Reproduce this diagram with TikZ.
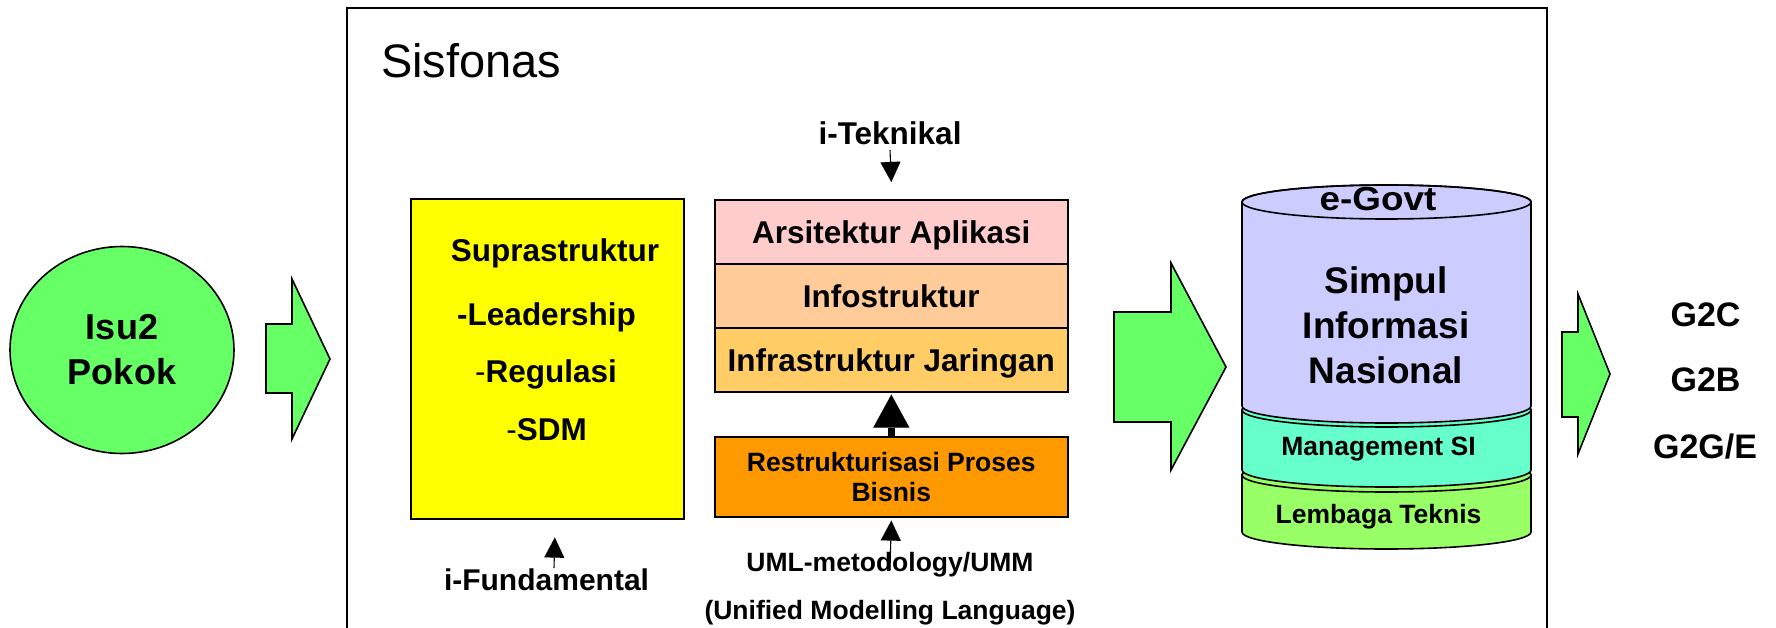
\documentclass[tikz,border=0pt]{standalone}
\usepackage{fontspec}
\setmainfont{Liberation Sans}
\usetikzlibrary{arrows.meta,shapes.geometric}
\newcommand\fsz[2]{\fontsize{#1pt}{#2pt}\selectfont}
\definecolor{bgreen}{HTML}{66FF66}
\definecolor{lyellow}{HTML}{FFFF00}
\definecolor{lpink}{HTML}{FFCCCC}
\definecolor{lpeach}{HTML}{FFCC99}
\definecolor{lgold}{HTML}{FFCC66}
\definecolor{lorange}{HTML}{FF9900}
\definecolor{lpurple}{HTML}{CCCCFF}
\definecolor{lteal}{HTML}{66FFCC}
\definecolor{llime}{HTML}{99FF66}
\newcommand\cyllayer[3]{%
  \filldraw[fill=#1, line width=1.6pt] (1242,#2) -- (1242,#3)
    arc[start angle=180, end angle=0, x radius=144.5, y radius=17] -- (1531,#2)
    arc[start angle=0, end angle=-180, x radius=144.5, y radius=17] -- cycle;
  \draw[line width=1.6pt] (1386.5,#2) ellipse[x radius=144.5, y radius=17];}
\begin{document}
\begin{tikzpicture}[x=1pt,y=-1pt,
  txt/.style={inner sep=0pt, text height=22.6pt, text depth=0pt, font=\bfseries\fsz{31.5}{38}},
  sm/.style={inner sep=0pt, text height=19pt, text depth=0pt, font=\bfseries\fsz{26.5}{30}},
  big/.style={inner sep=0pt, text height=24.3pt, text depth=0pt, font=\bfseries\fsz{34}{40}},
  layer/.style={draw, line width=1.6pt, minimum width=353pt, inner sep=0pt, anchor=north west,
    text height=22.6pt, text depth=0pt, font=\bfseries\fsz{31.5}{38}},
  blockarrow/.style={draw, line width=1.6pt, fill=bgreen, line join=miter},
  thinarrow/.style={line width=1.1pt, -{Triangle[width=20pt,length=20pt,line width=0.01pt]}}
]
\useasboundingbox (0,0) rectangle (1776,628);
\fill[white] (0,0) rectangle (1776,628);

% frame
\node[draw, line width=1.6pt, minimum width=1200pt, minimum height=700pt, inner sep=0pt, anchor=north west] (frame) at (346,7) {};
\node[inner sep=0pt, text height=33.7pt, text depth=0pt, font=\fsz{47}{56}, anchor=west] (sis) at (381,61) {Sisfonas};

% left ellipse
\node[ellipse, draw, fill=bgreen, line width=1.6pt, minimum width=224pt, minimum height=207pt,
  inner sep=0pt, align=center, font=\bfseries\fsz{36}{45}] (isu) at (122,350) {Isu2\\Pokok};

% block arrows
\draw[blockarrow] (266,324) -- (292,324) -- (292,279) -- (330,359) -- (292,439) -- (292,393) -- (266,393) -- cycle;
\draw[blockarrow] (1114,312) -- (1171,312) -- (1171,263) -- (1226,367) -- (1171,470) -- (1171,422) -- (1114,422) -- cycle;
\draw[blockarrow] (1562,332) -- (1578,332) -- (1578,294) -- (1610,374) -- (1578,454) -- (1578,417) -- (1562,417) -- cycle;

% yellow box
\node[draw, fill=lyellow, line width=1.6pt, minimum width=273pt, minimum height=320pt, inner sep=0pt, anchor=north west] (supra) at (410,198) {};
\node[txt] (sup) at (555,250) {Suprastruktur};
\node[txt] (lead) at (546.5,314.5) {-Leadership};
\node[txt] (reg) at (546,371) {{\mdseries-}Regulasi};
\node[txt] (sdm) at (546.5,429) {{\mdseries-}SDM};
\node[inner sep=0pt, text height=21.5pt, text depth=0pt, font=\bfseries\fsz{30}{36}] (ifund) at (546.5,580) {i-Fundamental};
\draw[thinarrow] ([xshift=7.5pt,yshift=1pt]ifund.north) -- ([xshift=7.5pt,yshift=-18pt]supra.south);

% technical stack
\node[txt] (itek) at (890,133.5) {i-Teknikal};
\node[layer, fill=lpink, minimum height=64pt] (arsi) at (714,199) {Arsitektur Aplikasi};
\node[layer, fill=lpeach, minimum height=64pt] (info) at (714,263) {Infostruktur};
\node[layer, fill=lgold, minimum height=64pt] (infra) at (714,327) {Infrastruktur Jaringan};
\node[draw, line width=1.6pt, minimum width=353pt, minimum height=80pt, inner sep=0pt, anchor=north west,
  fill=lorange, align=center, font=\bfseries\fsz{26.5}{30}] (bpr) at (714,436) {Restrukturisasi Proses\\Bisnis};
\draw[thinarrow] ([yshift=-5pt]itek.south) -- ([yshift=17pt]arsi.north);
\draw[line width=7pt, -{Triangle[width=36pt,length=33pt,line width=0.01pt]}] (bpr.north) -- ([yshift=-2pt]infra.south);
\node[sm] (uml) at (890,561.5) {UML-metodology/UMM};
\node[sm] (uni) at (890,610) {(Unified Modelling Language)};
\draw[thinarrow] ([yshift=-18pt]uml.north) -- ([yshift=-3pt]bpr.south);

% cylinder
\cyllayer{llime}{475}{532}
\cyllayer{lteal}{410}{470}
\cyllayer{lpurple}{202}{406}
\node[inner sep=0pt, text height=24pt, text depth=0pt, font=\bfseries\fsz{33.5}{40}] (egov) at (1378,199) {\scalebox{1.1}[1]{e-Govt}};
\node[align=center, inner sep=0pt, font=\bfseries\fsz{37}{45}] (simpul) at (1386,325) {Simpul\\Informasi\\Nasional};
\node[sm] (msi) at (1378.5,446) {Management SI};
\node[sm] (lt) at (1378.5,514) {Lembaga Teknis};

% outputs
\node[big] (g2c) at (1705.5,314) {G2C};
\node[big] (g2b) at (1705.5,379) {G2B};
\node[big] (g2g) at (1705,446.5) {G2G/E};
\end{tikzpicture}
\end{document}
